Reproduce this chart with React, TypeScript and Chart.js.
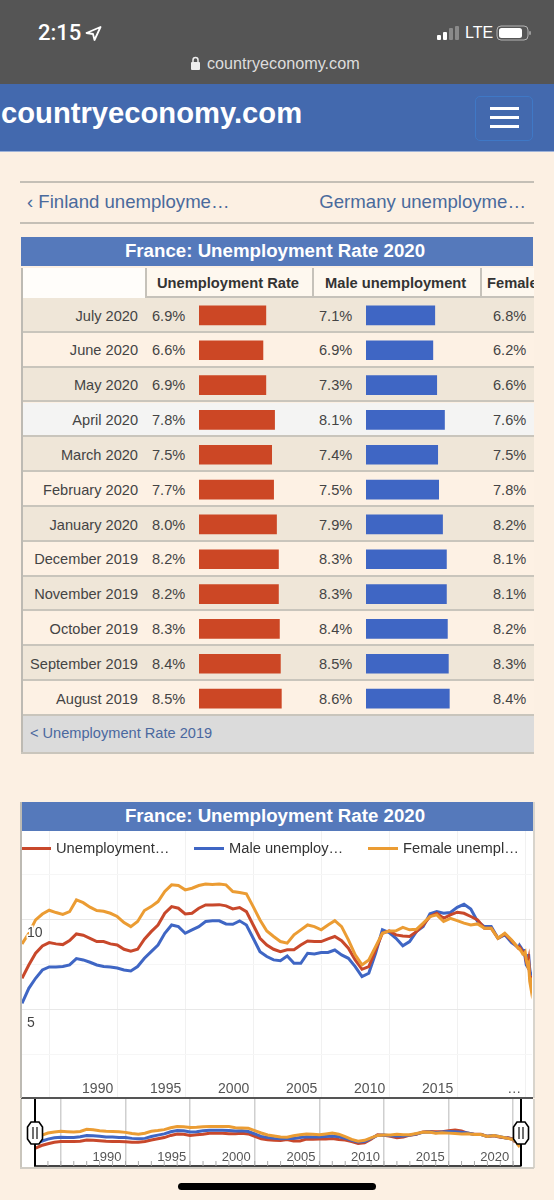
import React, { useEffect, useRef } from 'react';
import { Chart, registerables } from 'chart.js';

Chart.register(...registerables);
Chart.defaults.font.family = '"Liberation Sans", Arial, sans-serif';

const FONT = '"Liberation Sans", Arial, sans-serif';
const PAGE_BG = '#FCF0E3';
const BAND_BLUE = '#5579BB';
const RED = '#C8482B';
const BLUE = '#3F66C4';
const ORANGE = '#EB9C33';

// table, newest month first
const months = [
  'July 2020', 'June 2020', 'May 2020', 'April 2020', 'March 2020', 'February 2020',
  'January 2020', 'December 2019', 'November 2019', 'October 2019', 'September 2019', 'August 2019',
];
const rateTable = [6.9, 6.6, 6.9, 7.8, 7.5, 7.7, 8.0, 8.2, 8.2, 8.3, 8.4, 8.5];
const maleTable = [7.1, 6.9, 7.3, 8.1, 7.4, 7.5, 7.9, 8.3, 8.3, 8.4, 8.5, 8.6];
const femaleTable = [6.8, 6.2, 6.6, 7.6, 7.5, 7.8, 8.2, 8.1, 8.1, 8.2, 8.3, 8.4];

// long series, every half year, last 12 months come from the table
const historyYears = [
  1983, 1983.5, 1984, 1984.5, 1985, 1985.5, 1986, 1986.5, 1987, 1987.5,
  1988, 1988.5, 1989, 1989.5, 1990, 1990.5, 1991, 1991.5, 1992, 1992.5,
  1993, 1993.5, 1994, 1994.5, 1995, 1995.5, 1996, 1996.5, 1997, 1997.5,
  1998, 1998.5, 1999, 1999.5, 2000, 2000.5, 2001, 2001.5,
  2002, 2002.5, 2003, 2003.5, 2004, 2004.5, 2005, 2005.5, 2006, 2006.5,
  2007, 2007.5, 2008, 2008.5, 2009, 2009.5, 2010, 2010.5,
  2011, 2011.5, 2012, 2012.5, 2013, 2013.5, 2014, 2014.5, 2015, 2015.5,
  2016, 2016.5, 2017, 2017.5, 2018, 2018.5, 2019, 2019.5,
];
const tableYears = [2020.5, 2020.42, 2020.33, 2020.25, 2020.17, 2020.08, 2020, 2019.92, 2019.83, 2019.75, 2019.67, 2019.58];
const rateHistory = [
  6.76, 7.5, 8.15, 8.56, 8.74, 8.67, 8.63, 8.85, 9.22, 9.15, 8.98, 8.8, 8.8, 8.67, 8.61, 8.37, 8.26, 8.37, 8.93, 9.35,
  9.72, 10.37, 10.74, 10.65, 10.33, 10.37, 10.65, 10.83, 10.83, 10.85, 10.78, 10.61, 10.69, 10.46, 9.72, 8.98, 8.61, 8.37,
  8.24, 8.34, 8.34, 8.61, 8.83, 8.8, 8.8, 8.95, 9.08, 8.85, 8.43, 7.78, 7.26, 7.41, 8.34, 9.26, 9.39, 9.17,
  9.11, 9.08, 9.35, 9.72, 10.19, 10.37, 10.09, 10.28, 10.43, 10.37, 10.19, 10, 9.54, 9.54, 8.98, 9.22, 8.85, 8.43,
];
const maleHistory = [
  5.37, 6.2, 6.76, 7.22, 7.39, 7.39, 7.41, 7.5, 7.85, 7.78, 7.65, 7.5, 7.41, 7.39, 7.33, 7.22, 7.17, 7.41, 7.87, 8.24,
  8.61, 9.26, 9.72, 9.63, 9.26, 9.45, 9.63, 9.91, 9.95, 9.95, 9.78, 9.76, 9.95, 9.72, 8.98, 8.24, 7.97, 7.78,
  7.74, 8.0, 7.59, 7.59, 8.15, 8.11, 8.19, 8.19, 8.33, 8.06, 7.87, 7.41, 6.85, 7.04, 8.15, 9.45, 9.3, 8.98,
  8.56, 8.8, 9.35, 9.63, 10.34, 10.47, 10.37, 10.41, 10.7, 10.87, 10.6, 9.91, 9.63, 9.63, 8.98, 9.17, 8.74, 8.48,
];
const femaleHistory = [
  8.67, 9.26, 10, 10.33, 10.54, 10.41, 10.31, 10.46, 11.11, 10.96, 10.71, 10.52, 10.48, 10.37, 10.19, 9.85, 9.63, 9.91, 10.52, 10.74,
  11.02, 11.58, 11.95, 11.91, 11.67, 11.76, 11.91, 12, 11.97, 12, 11.95, 11.58, 11.52, 11.45, 10.74, 10, 9.39, 9.08,
  8.8, 8.71, 9.17, 9.45, 9.72, 9.63, 9.45, 9.72, 9.96, 9.63, 8.89, 8.06, 7.5, 7.78, 8.52, 9.26, 9.39, 9.4,
  9.59, 9.45, 9.48, 9.82, 10.19, 10.28, 9.91, 10.09, 9.96, 9.82, 9.72, 9.78, 9.54, 9.54, 8.98, 9.26, 8.89, 8.43,
];

const legendLabels = ['Unemployment…', 'Male unemploy…', 'Female unempl…'];
const mainXLabels: Record<number, string> = {
  1990: '1990', 1995: '1995', 2000: '2000', 2005: '2005', 2010: '2010', 2015: '2015', 2020: '…',
};
const navXLabels: Record<number, string> = {
  1990: '1990', 1995: '1995', 2000: '2000', 2005: '2005', 2010: '2010', 2015: '2015', 2020: '2020',
};
const yLabels: Record<number, string> = { 5: '5', 10: '10' };

const points = (history: number[], table: number[]) => [
  ...historyYears.map((x, i) => ({ x, y: history[i] })),
  ...tableYears.map((x, i) => ({ x, y: table[i] })).reverse(),
];

const line = (label: string, color: string, data: { x: number; y: number }[]) => ({
  label,
  data,
  borderColor: color,
  backgroundColor: color,
  borderWidth: 3,
  pointRadius: 0,
  tension: 0,
});

// the axes sit inside the plot here, so they must not take any room in the layout
const flatX = (s: any) => { s.height = 0; s.paddingLeft = 0; s.paddingRight = 0; };
const flatY = (s: any) => { s.width = 0; s.paddingTop = 0; s.paddingBottom = 0; };

const mainConfig = (): any => ({
  type: 'line',
  data: {
    // first dataset ends up on top
    datasets: [
      line(legendLabels[2], ORANGE, points(femaleHistory, femaleTable)),
      line(legendLabels[0], RED, points(rateHistory, rateTable)),
      line(legendLabels[1], BLUE, points(maleHistory, maleTable)),
    ],
  },
  options: {
    animation: false,
    responsive: false,
    layout: { padding: { left: 1, right: 1, top: 0, bottom: 3 } },
    plugins: { legend: { display: false }, tooltip: { enabled: false } },
    scales: {
      x: {
        type: 'linear',
        min: 1983,
        max: 2020.5,
        afterFit: flatX,
        border: { color: '#555', width: 2 },
        grid: { color: '#f1f1f1', drawTicks: false },
        ticks: {
          stepSize: 5,
          includeBounds: false,
          autoSkip: false,
          maxRotation: 0,
          align: 'end',
          mirror: true,
          labelOffset: -4,
          padding: 0,
          color: '#555',
          font: { size: 14 },
          callback: (v: number) => mainXLabels[v] ?? '',
        },
      },
      y: {
        min: 0.11,
        max: 14.94,
        afterFit: flatY,
        border: { display: false },
        grid: {
          drawTicks: false,
          color: (c: any) => (c.tick.value % 5 === 0 ? '#e8e8e8' : '#f6f6f6'),
        },
        ticks: {
          stepSize: 2.5,
          includeBounds: false,
          autoSkip: false,
          mirror: true,
          padding: 5,
          labelOffset: 13,
          z: 1,
          color: '#444',
          textStrokeColor: '#fff',
          textStrokeWidth: 3,
          font: { size: 14 },
          callback: (v: number) => yLabels[v] ?? '',
        },
      },
    },
  },
});

// yearly tick marks along the bottom of the range selector
const navYearTicks = {
  id: 'navYearTicks',
  afterDatasetsDraw(chart: any) {
    const { ctx, scales, chartArea } = chart;
    ctx.save();
    ctx.strokeStyle = '#aaa';
    ctx.lineWidth = 1;
    for (let year = Math.ceil(scales.x.min); year <= scales.x.max; year++) {
      const x = scales.x.getPixelForValue(year);
      ctx.beginPath();
      ctx.moveTo(x, chartArea.bottom);
      ctx.lineTo(x, chartArea.bottom - 5);
      ctx.stroke();
    }
    ctx.restore();
  },
};

const navConfig = (): any => ({
  type: 'line',
  // the selector really does colour the series differently from the main chart
  data: {
    datasets: [
      line(legendLabels[2], ORANGE, points(femaleHistory, femaleTable)),
      line(legendLabels[0], BLUE, points(rateHistory, rateTable)),
      line(legendLabels[1], RED, points(maleHistory, maleTable)),
    ],
  },
  options: {
    animation: false,
    responsive: false,
    layout: { padding: { left: 14, right: 12, top: 0, bottom: 3 } },
    plugins: { legend: { display: false }, tooltip: { enabled: false } },
    scales: {
      x: {
        type: 'linear',
        min: 1983,
        max: 2020.6,
        afterFit: flatX,
        border: { color: '#444', width: 2 },
        grid: { color: '#cfcfcf', lineWidth: 1.5, drawTicks: false },
        ticks: {
          stepSize: 5,
          includeBounds: false,
          autoSkip: false,
          maxRotation: 0,
          align: 'end',
          mirror: true,
          labelOffset: -4,
          padding: 1,
          color: '#555',
          font: { size: 13 },
          callback: (v: number) => navXLabels[v] ?? '',
        },
      },
      y: { display: false, min: 0, max: 20.3 },
    },
  },
  plugins: [navYearTicks],
});

const barConfig = (values: number[], color: string): any => ({
  type: 'bar',
  data: {
    labels: months,
    datasets: [{ data: values, backgroundColor: color, barThickness: 19 }],
  },
  options: {
    animation: false,
    responsive: false,
    indexAxis: 'y',
    plugins: { legend: { display: false }, tooltip: { enabled: false } },
    scales: {
      x: { display: false, min: 0, max: 10.32 },
      y: { display: false },
    },
  },
});

function ChartCanvas({ config, left, top, width, height }: any) {
  const ref = useRef<HTMLCanvasElement | null>(null);
  useEffect(() => {
    const chart = new Chart(ref.current as HTMLCanvasElement, config());
    return () => chart.destroy();
  }, []);
  return <canvas ref={ref} width={width} height={height} style={{ position: 'absolute', left, top, width, height }} />;
}

const box = (left: number, top: number, width: number, height: number, extra: any = {}): any => ({
  position: 'absolute', left, top, width, height, ...extra,
});

function Text({ x, y, children, size, color = '#444', bold = false, weight, right, center, font }: any) {
  // y is the vertical centre of the text
  const style: any = {
    position: 'absolute',
    top: y - 15,
    height: 30,
    lineHeight: '30px',
    fontSize: size,
    color,
    fontWeight: weight || (bold ? 'bold' : 'normal'),
    fontFamily: font || FONT,
    whiteSpace: 'nowrap',
  };
  if (right !== undefined) style.right = 554 - right;
  else if (center) { style.left = x; style.transform = 'translateX(-50%)'; }
  else style.left = x;
  return <div style={style}>{children}</div>;
}

function StatusBar() {
  return (
    <div style={box(0, 0, 554, 84, { background: '#555555' })}>
      <Text x={38} y={33} size={22} color="#fff" font="Roboto" weight={500}>2:15</Text>
      <svg style={box(85, 26, 17, 15)} viewBox="0 0 17 15">
        <path d="M15.5 1 L1.5 7 L8 8 L9.5 14 Z" fill="none" stroke="#fff" strokeWidth="1.8" strokeLinejoin="round" />
      </svg>
      <svg style={box(436, 25, 96, 18)} viewBox="0 0 96 18">
        <rect x="1" y="10" width="4" height="5" rx="1" fill="#fff" />
        <rect x="7" y="7" width="4" height="8" rx="1" fill="#fff" />
        <rect x="13" y="3" width="4" height="12" rx="1" fill="#8a8a8a" />
        <rect x="19" y="1" width="4" height="14" rx="1" fill="#8a8a8a" />
        <rect x="61" y="1" width="31" height="14" rx="4" fill="none" stroke="#b5b5b5" strokeWidth="1" />
        <rect x="63" y="3" width="23" height="10" rx="2.5" fill="#fff" />
        <rect x="93" y="6" width="2" height="4" rx="1" fill="#9a9a9a" />
      </svg>
      <Text x={465} y={33} size={16} color="#fff">LTE</Text>
      <svg style={box(190, 56, 11, 14)} viewBox="0 0 11 14">
        <rect x="1" y="6" width="9" height="8" rx="1" fill="#eee" />
        <path d="M3 6 V4 a2.5 2.5 0 0 1 5 0 V6" fill="none" stroke="#eee" strokeWidth="1.5" />
      </svg>
      <Text x={207} y={63} size={16.2} color="#ddd">countryeconomy.com</Text>
    </div>
  );
}

function SiteHeader() {
  return (
    <div style={box(0, 84, 554, 67, { background: '#4369AE', borderBottom: '1px solid #9db2d8' })}>
      <Text x={1} y={29} size={29.2} color="#fff" bold>countryeconomy.com</Text>
      <div style={box(475, 12, 56, 43, { border: '1.5px solid #3F78C6', borderRadius: 5 })} />
      {[24, 33, 42].map((y) => <div key={y} style={box(490, y - 1, 29, 2.5, { background: '#fff' })} />)}
    </div>
  );
}

function TitleBand({ top }: { top: number }) {
  return (
    <div style={box(21, top, 512, 29, { background: BAND_BLUE })}>
      <Text x={254} y={14} size={18.7} color="#fff" bold center>France: Unemployment Rate 2020</Text>
    </div>
  );
}

function UnemploymentTable() {
  const rowH = 418 / 12;
  const cell = (v: number) => `${v.toFixed(1)}%`;
  const rowColor = (i: number) => (i === 3 ? '#F4F4F3' : i % 2 === 0 ? '#EFE6D8' : '#FDF1E4');
  return (
    <>
      <div style={box(21, 268, 513, 484, { overflow: 'hidden' })}>
        <div style={box(1, 0, 512, 30, { background: '#FEF8EF', borderBottom: '2px solid #C6C2BA', boxSizing: 'border-box' })} />
        <div style={box(1, 0, 123, 30, { background: '#FFFDFA' })} />
        {[124, 291, 459].map((x) => <div key={x} style={box(x, 0, 1.5, 30, { background: '#C6C2BA' })} />)}
        <Text x={136} y={15} size={14.7} color="#333" bold>Unemployment Rate</Text>
        <Text x={304} y={15} size={14.7} color="#333" bold>Male unemployment</Text>
        <Text x={466} y={15} size={14.7} color="#333" bold>Female unemployment</Text>
        {months.map((m, i) => (
          <div key={m} style={box(1, 30 + i * rowH, 512, rowH, { background: rowColor(i), borderBottom: '2px solid #C9C5BC', boxSizing: 'border-box' })} />
        ))}
        <div style={box(1, 448, 512, 36, { background: '#DBDBDB' })} />
      </div>
      <div style={box(21, 268, 2, 484, { background: '#BDBAB3' })} />
      <div style={box(21, 752, 513, 2, { background: '#C9C5BC' })} />
      {months.map((m, i) => {
        const y = 315.5 + i * rowH;
        return (
          <React.Fragment key={m}>
            <Text right={138} y={y} size={14.6}>{m}</Text>
            <Text x={152} y={y} size={14.6}>{cell(rateTable[i])}</Text>
            <Text x={319} y={y} size={14.6}>{cell(maleTable[i])}</Text>
            <Text x={493} y={y} size={14.6}>{cell(femaleTable[i])}</Text>
          </React.Fragment>
        );
      })}
      <Text x={30} y={733} size={14.6} color="#4A689F">{'< Unemployment Rate 2019'}</Text>
    </>
  );
}

function Legend() {
  const items = [
    { x: 21, label: legendLabels[0], color: RED },
    { x: 194, label: legendLabels[1], color: BLUE },
    { x: 368, label: legendLabels[2], color: ORANGE },
  ];
  return (
    <>
      {items.map((it) => (
        <React.Fragment key={it.label}>
          <div style={box(it.x, 847, 30, 3, { background: it.color })} />
          <Text x={it.x + 35} y={848} size={14.7} color="#333">{it.label}</Text>
        </React.Fragment>
      ))}
    </>
  );
}

function Handle({ x }: { x: number }) {
  return (
    <svg style={box(x - 9, 1098, 18, 70)} viewBox="0 0 18 70">
      <line x1="9" y1="1" x2="9" y2="68" stroke="#000" strokeWidth="2" />
      <polygon points="5,24 13,24 16.5,29 16.5,41 13,46 5,46 1.5,41 1.5,29" fill="#fff" stroke="#000" strokeWidth="1.6" />
      <line x1="7" y1="29" x2="7" y2="41" stroke="#333" strokeWidth="1.4" />
      <line x1="11" y1="29" x2="11" y2="41" stroke="#333" strokeWidth="1.4" />
    </svg>
  );
}

export default function App() {
  useEffect(() => {
    document.body.style.margin = '0';
    document.body.style.background = PAGE_BG;
  }, []);
  return (
    <div style={{ ...box(0, 0, 554, 1200), background: PAGE_BG, overflow: 'hidden', fontFamily: FONT }}>
      <StatusBar />
      <SiteHeader />

      <div style={box(20, 181, 514, 1.5, { background: '#C4BFB6' })} />
      <Text x={27} y={202} size={18.6} color="#4A6A9C">‹ Finland unemployme…</Text>
      <Text right={526} y={202} size={18.6} color="#4A6A9C">Germany unemployme…</Text>
      <div style={box(20, 222, 514, 2, { background: '#C4BFB6' })} />

      <TitleBand top={237} />
      <UnemploymentTable />
      <ChartCanvas config={() => barConfig(rateTable, '#CC4725')} left={199} top={298} width={100} height={418} />
      <ChartCanvas config={() => barConfig(maleTable, '#3F66C4')} left={366} top={298} width={100} height={418} />

      <TitleBand top={802} />
      <div style={box(21, 831, 512, 267, { background: '#fff' })} />
      <ChartCanvas config={mainConfig} left={21} top={831} width={512} height={270} />
      <Legend />
      <div style={box(20, 802, 1.5, 296, { background: '#BDBAB3' })} />
      <div style={box(533, 802, 1.5, 296, { background: '#D8D4CC' })} />

      <div style={box(21, 1099, 512, 68, { background: '#fff' })} />
      <ChartCanvas config={navConfig} left={21} top={1099} width={512} height={70} />
      <div style={box(20, 1099, 1.5, 69, { background: '#C9C5BC' })} />
      <div style={box(533, 1099, 1.5, 69, { background: '#D8D4CC' })} />
      <div style={box(20, 1167, 514, 1.5, { background: '#D0CCC4' })} />
      <Handle x={35} />
      <Handle x={521} />

      <div style={box(178, 1183, 198, 7, { background: '#000', borderRadius: 4 })} />
    </div>
  );
}
